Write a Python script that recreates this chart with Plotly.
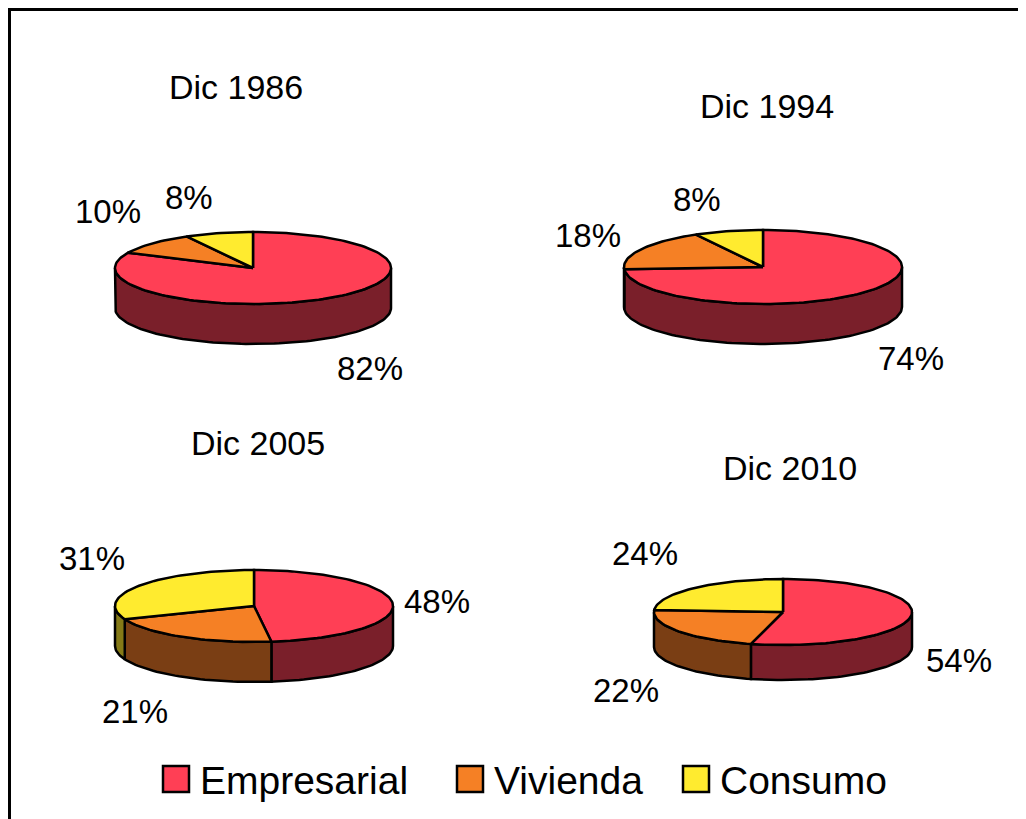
import numpy as np
import plotly.graph_objects as go

# ---------------- data ----------------
categories = ["Empresarial", "Vivienda", "Consumo"]
periods = ["Dic 1986", "Dic 1994", "Dic 2005", "Dic 2010"]
share_1986 = [82, 10, 8]
share_1994 = [74, 18, 8]
share_2005 = [48, 21, 31]
share_2010 = [54, 22, 24]
shares = [share_1986, share_1994, share_2005, share_2010]

# ---------------- styles / layout (screen pixel space) ----------------
W, H = 1026, 819
OFF = 8  # page body margin
top_colors = ["#FF3F55", "#F58025", "#FFEB2F"]
side_colors = ["#7A1F2A", "#7A3E14", "#857A17"]
FONT = "Liberation Sans, Arial, sans-serif"

pie_geom = [
    dict(cx=253, cy=268, rx=138, ry=36, depth=40),
    dict(cx=763, cy=267, rx=139, ry=37, depth=40),
    dict(cx=254, cy=606, rx=139, ry=36, depth=40),
    dict(cx=783, cy=612, rx=129, ry=33, depth=35),
]
title_pos = [(236, 87), (767, 106), (258, 443), (790, 468)]
label_pos = [
    [(370, 368), (108, 211), (189, 197)],
    [(911, 358), (588, 235), (697, 199)],
    [(437, 601), (135, 711), (92, 558)],
    [(959, 660), (626, 690), (645, 553)],
]
legend_sq = [(163, 766), (457, 766), (683, 766)]
legend_sz = 26


def arc(g, a0, a1, dy=0.0):
    n = max(2, int(abs(a1 - a0) / 2) + 2)
    t = np.radians(np.linspace(a0, a1, n))
    return g["cx"] + g["rx"] * np.sin(t), g["cy"] - g["ry"] * np.cos(t) + dy


fig = go.Figure()

for vals, g in zip(shares, pie_geom):
    total = float(sum(vals))
    bounds = np.concatenate([[0.0], np.cumsum(vals) / total * 360.0])
    # side walls (front half: 90..270 deg clockwise from top)
    for i in range(len(vals)):
        lo, hi = max(bounds[i], 90.0), min(bounds[i + 1], 270.0)
        if lo < hi:
            xt, yt = arc(g, lo, hi)
            xb, yb = arc(g, hi, lo, g["depth"])
            xs = np.concatenate([xt, xb, xt[:1]])
            ys = np.concatenate([yt, yb, yt[:1]])
            fig.add_trace(go.Scatter(x=xs, y=ys, mode="lines", fill="toself",
                                     fillcolor=side_colors[i],
                                     line=dict(color="black", width=2.5),
                                     hoverinfo="skip", showlegend=False))
    # top faces
    for i in range(len(vals)):
        xa, ya = arc(g, bounds[i], bounds[i + 1])
        xs = np.concatenate([[g["cx"]], xa, [g["cx"]]])
        ys = np.concatenate([[g["cy"]], ya, [g["cy"]]])
        fig.add_trace(go.Scatter(x=xs, y=ys, mode="lines", fill="toself",
                                 fillcolor=top_colors[i],
                                 line=dict(color="black", width=2.5),
                                 name=categories[i], hoverinfo="skip",
                                 showlegend=False))

annotations = []
for p, (tx, ty) in zip(periods, title_pos):
    annotations.append(dict(x=tx, y=ty, text=p, showarrow=False,
                            xanchor="center", yanchor="middle",
                            font=dict(family=FONT, size=34, color="black")))
for vals, lp in zip(shares, label_pos):
    total = float(sum(vals))
    for v, (lx, ly) in zip(vals, lp):
        annotations.append(dict(x=lx, y=ly, text=f"{round(v / total * 100)}%",
                                showarrow=False, xanchor="center", yanchor="middle",
                                font=dict(family=FONT, size=33, color="black")))

shapes = [dict(type="rect", xref="x", yref="y", x0=9.5, y0=9.5, x1=W + 20, y1=H + 20,
               line=dict(color="black", width=3), fillcolor="rgba(0,0,0,0)",
               layer="below")]
for cat, col, (sx, sy) in zip(categories, top_colors, legend_sq):
    shapes.append(dict(type="rect", xref="x", yref="y", x0=sx, y0=sy,
                       x1=sx + legend_sz, y1=sy + legend_sz, fillcolor=col,
                       line=dict(color="black", width=2.5)))
    annotations.append(dict(x=sx + legend_sz + 9, y=sy + legend_sz / 2 + 1, text=cat,
                            showarrow=False, xanchor="left", yanchor="middle",
                            font=dict(family=FONT, size=39, color="black")))

fig.update_layout(
    width=W - OFF, height=H - OFF,
    margin=dict(l=0, r=0, t=0, b=0),
    paper_bgcolor="white", plot_bgcolor="white",
    xaxis=dict(range=[OFF, W], visible=False, fixedrange=True),
    yaxis=dict(range=[H, OFF], visible=False, fixedrange=True),
    shapes=shapes, annotations=annotations, showlegend=False,
)

fig.write_html("out.html")
